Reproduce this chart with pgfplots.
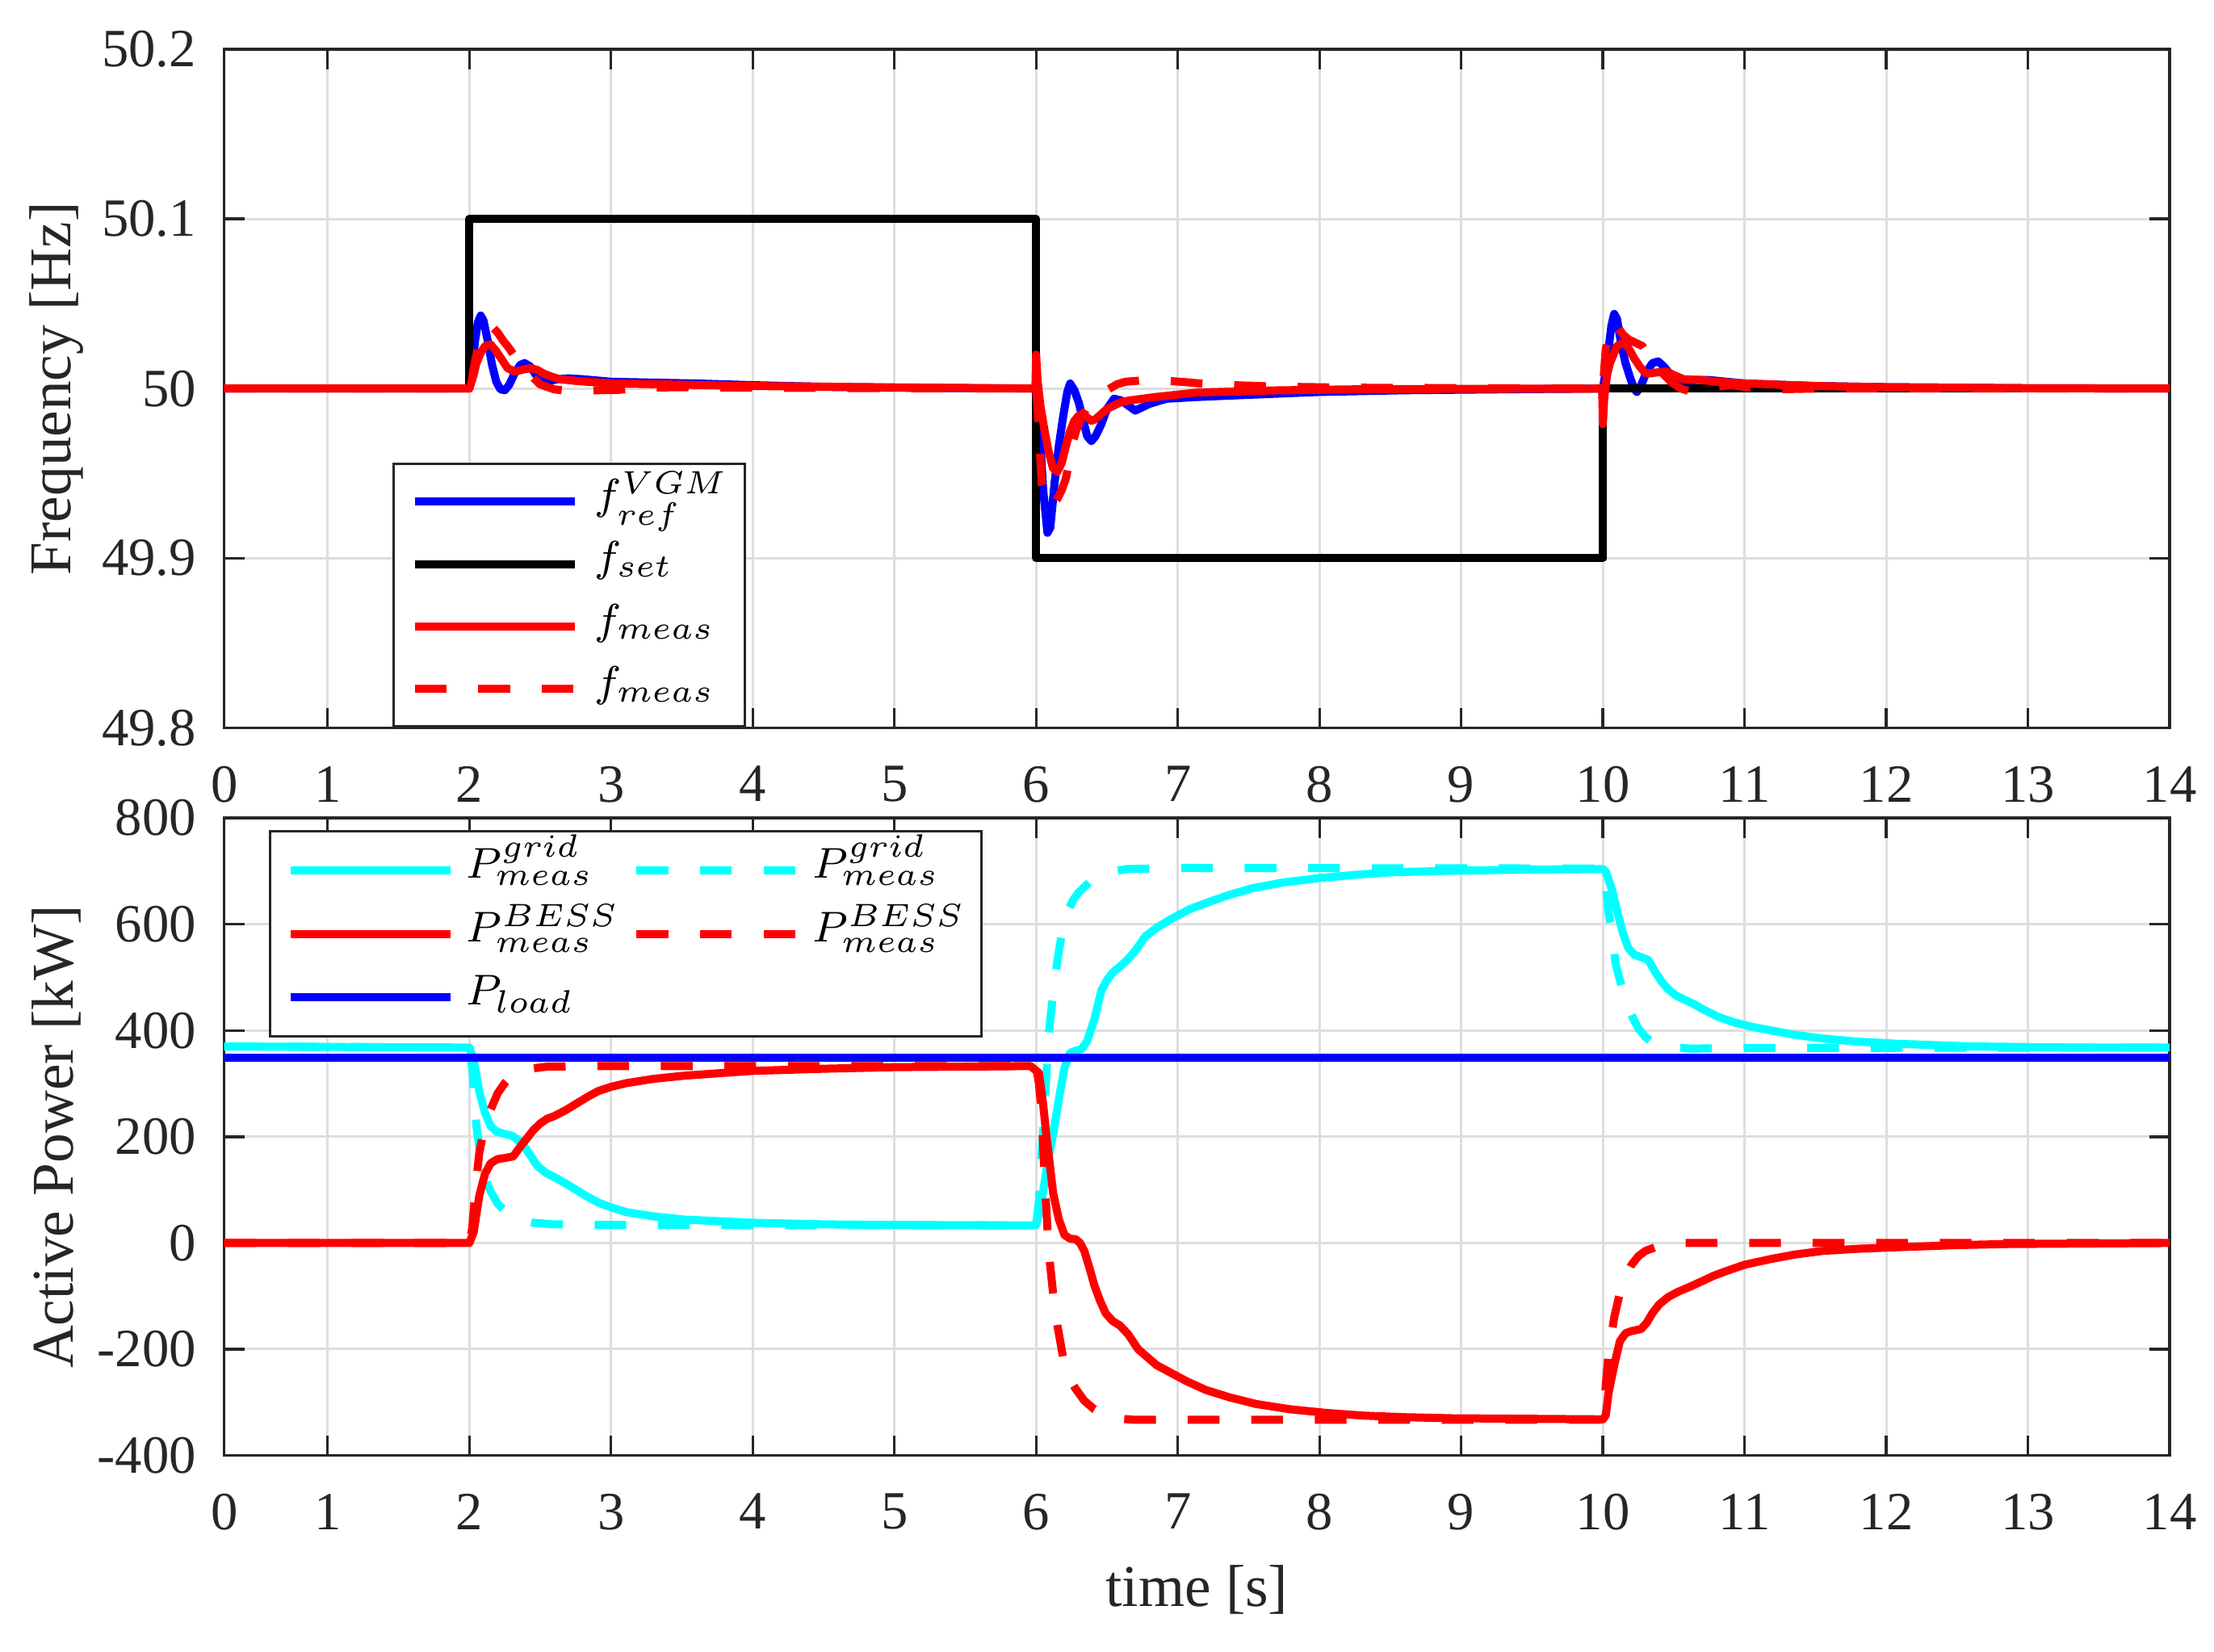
\documentclass[border=0pt]{standalone}
\usepackage{fontspec}
\setmainfont{Liberation Serif}
\usepackage{pgfplots}
\pgfplotsset{compat=1.18}
\definecolor{axgray}{HTML}{262626}
\definecolor{gridgray}{HTML}{DEDEDE}
\definecolor{mcyan}{HTML}{00FFFF}
\definecolor{mred}{HTML}{FF0000}
\definecolor{mblue}{HTML}{0000FF}
\pgfplotsset{
  common/.style={
    scale only axis, width=361.4pt,
    xmin=0.27, xmax=14,
    xtick={0.27,1,2,3,4,5,6,7,8,9,10,11,12,13,14},
    xticklabels={0,1,2,3,4,5,6,7,8,9,10,11,12,13,14},
    grid=major,
    major grid style={line width=0.45pt, draw=gridgray},
    axis line style={line width=0.5pt, draw=axgray},
    tick style={line width=0.5pt, draw=axgray},
    major tick length=3.75pt,
    tick align=inside,
    ticklabel style={font=\fontsize{10}{12}\selectfont, text=axgray},
    x tick label style={yshift=-3.6pt},
    y tick label style={xshift=-1.7pt},
    y label style={at={(axis description cs:-0.0862,0.5)}, anchor=center, font=\fontsize{11}{13}\selectfont, text=axgray},
    x label style={at={(axis description cs:0.5,0)}, anchor=center, yshift=-25pt, font=\fontsize{11}{13}\selectfont, text=axgray},
    legend cell align=left,
    legend image code/.code={\draw (0pt,0pt) -- (29.7pt,0pt);},
    every axis plot/.append style={line width=1.5pt, line join=round},
  },
  dsh/.style={dash pattern=on 5.9pt off 5.9pt},
}
\begin{document}
\begin{tikzpicture}
\useasboundingbox (-41.66pt,-36.5pt) rectangle (369.65pt,270.39pt);
% ---------------- top axis ----------------
\begin{axis}[common, at={(0pt,135.15pt)}, anchor=south west, height=126.1pt,
  ymin=49.8, ymax=50.2, ytick={49.8,49.9,50,50.1,50.2},
  yticklabels={49.8,49.9,50,50.1,50.2},
  ylabel={Frequency [Hz]},
  legend style={at={(axis description cs:0.0865,0)}, anchor=south west,
    draw=axgray, line width=0.5pt, fill=white, inner xsep=3.15pt, inner ysep=1.2pt,
    row sep=0pt,
    nodes={inner sep=0pt, text height=7.2pt, text depth=4.4pt, font=\fontsize{8}{10}\selectfont, text=black},
    /tikz/every odd column/.append style={column sep=3pt}},
]
\addplot[mblue] coordinates {
(0.27,50) (2.0,50) (2.02,50.012) (2.04,50.028) (2.06,50.039) (2.08,50.043) (2.10,50.040) (2.13,50.028) (2.16,50.014) (2.19,50.004) (2.22,49.9995) (2.25,49.999) (2.28,50.002) (2.32,50.009) (2.36,50.014) (2.39,50.015) (2.43,50.013) (2.47,50.008) (2.51,50.005) (2.55,50.004) (2.62,50.0055) (2.7,50.006) (2.8,50.0055) (3.0,50.004) (3.3,50.0035) (3.6,50.003) (4.0,50.002) (4.5,50.001) (5.0,50.0005) (6.0,50)
(6.025,49.975) (6.05,49.94) (6.08,49.915) (6.10,49.918) (6.13,49.944) (6.16,49.966) (6.19,49.983) (6.22,49.998) (6.24,50.003) (6.27,49.999) (6.30,49.992) (6.33,49.982) (6.36,49.972) (6.39,49.969) (6.42,49.972) (6.46,49.979) (6.50,49.988) (6.55,49.994) (6.6,49.993) (6.65,49.990) (6.7,49.987) (6.75,49.989) (6.8,49.991) (6.92,49.994) (7.13,49.995) (7.5,49.9963) (8.0,49.998) (8.6,49.999) (9.5,49.9997) (10.0,50)
(10.02,50.01) (10.04,50.023) (10.06,50.037) (10.08,50.044) (10.1,50.041) (10.13,50.026) (10.16,50.015) (10.19,50.007) (10.22,50.0) (10.24,49.998) (10.27,50.002) (10.31,50.010) (10.35,50.015) (10.39,50.016) (10.43,50.013) (10.48,50.008) (10.53,50.005) (10.57,50.004) (10.65,50.005) (10.75,50.005) (11.0,50.003) (11.5,50.0015) (12,50.0008) (13,50.0002) (14,50)
};
\addlegendentry{$f_{ref}^{VGM}$}
\addplot[black] coordinates {
(0.27,50) (2.0,50) (2.0,50.1) (6.0,50.1) (6.0,49.9) (10.0,49.9) (10.0,50) (14,50)
};
\addlegendentry{$f_{set}$}
\addplot[mred] coordinates {
(0.27,50) (2.0,50) (2.03,50.008) (2.05,50.015) (2.08,50.021) (2.11,50.025) (2.15,50.026) (2.19,50.022) (2.23,50.017) (2.27,50.012) (2.32,50.010) (2.37,50.011) (2.43,50.012) (2.48,50.011) (2.52,50.009) (2.58,50.007) (2.64,50.0055) (2.75,50.0045) (2.83,50.004) (3.02,50.003) (3.4,50.0024) (4,50.0015) (5,50.0007) (5.995,50)
(6.0,50.02) (6.01,50.005) (6.03,49.99) (6.06,49.975) (6.09,49.962) (6.12,49.953) (6.15,49.951) (6.18,49.956) (6.21,49.966) (6.24,49.975) (6.27,49.981) (6.3,49.984) (6.33,49.985) (6.36,49.983) (6.39,49.981) (6.42,49.982) (6.46,49.985) (6.5,49.988) (6.55,49.990) (6.6,49.992) (6.66,49.993) (6.75,49.994) (6.84,49.995) (7.13,49.9976) (7.68,49.9989) (8.2,49.9995) (9,49.9998) (9.995,50)
(10.0,49.979) (10.01,49.995) (10.03,50.008) (10.05,50.015) (10.08,50.021) (10.1,50.025) (10.14,50.027) (10.18,50.024) (10.22,50.018) (10.26,50.013) (10.3,50.009) (10.34,50.009) (10.38,50.0095) (10.45,50.010) (10.5,50.008) (10.57,50.0055) (10.7,50.005) (10.8,50.004) (11,50.003) (11.5,50.0015) (12,50.0008) (13,50.0002) (14,50)
};
\addlegendentry{$f_{meas}$}
\addplot[mred, dsh] coordinates {
(0.27,50) (2.0,50) (2.01,50.0) (2.03,50.012) (2.06,50.024) (2.1,50.032) (2.13,50.036) (2.16,50.0365) (2.2,50.033) (2.24,50.028) (2.27,50.025) (2.32,50.019) (2.37,50.0135) (2.43,50.008) (2.5,50.0024) (2.6,49.9995) (2.71,49.9985) (2.79,49.9985) (2.9,49.999) (3.05,49.9992) (3.2,50.0005) (3.5,50.0008) (4,50.0005) (6.0,50)
(6.01,49.988) (6.04,49.944) (6.08,49.932) (6.12,49.931) (6.15,49.935) (6.18,49.94) (6.21,49.947) (6.24,49.96) (6.26,49.969) (6.29,49.977) (6.32,49.983) (6.36,49.989) (6.41,49.993) (6.46,49.997) (6.52,50.0) (6.57,50.0025) (6.63,50.004) (6.75,50.0048) (6.88,50.0048) (7.05,50.0038) (7.24,50.0024) (7.68,50.0012) (8.2,50.0005) (10,50)
(10.02,50.023) (10.05,50.034) (10.08,50.039) (10.1,50.037) (10.14,50.032) (10.18,50.029) (10.23,50.027) (10.28,50.025) (10.34,50.017) (10.41,50.010) (10.48,50.004) (10.55,50.0) (10.63,49.998) (10.7,49.999) (10.8,50.001) (10.9,50.002) (11.0,50.001) (11.2,49.9995) (11.5,50.0) (14,50)
};
\addlegendentry{$f_{meas}$}
\end{axis}
% ---------------- bottom axis ----------------
\begin{axis}[common, at={(0pt,0pt)}, anchor=south west, height=118.41pt,
  ymin=-400, ymax=800, ytick={-400,-200,0,200,400,600,800},
  yticklabels={-400,-200,0,200,400,600,800},
  ylabel={Active Power [kW]}, xlabel={time [s]},
  legend columns=2,
  legend style={at={(axis description cs:0.023,0.981)}, anchor=north west,
    draw=axgray, line width=0.5pt, fill=white, inner xsep=3pt, inner ysep=1.35pt,
    row sep=0pt,
    nodes={inner sep=0pt, text height=7.3pt, text depth=4.5pt, font=\fontsize{8}{10}\selectfont, text=black},
    /tikz/every odd column/.append style={column sep=2.25pt},
    /tikz/every even column/.append style={column sep=2.5pt}},
]
\addplot[mcyan] coordinates {
(0.27,370) (1,369) (2.0,368) (2.03,345) (2.07,285) (2.11,245) (2.15,220) (2.19,210) (2.24,206) (2.3,202) (2.34,195) (2.38,185) (2.43,165) (2.48,145) (2.54,132) (2.6,124) (2.68,112) (2.76,99) (2.84,86) (2.91,76) (3.0,67) (3.11,58) (3.3,50) (3.52,44) (4.0,38) (4.5,35) (5,34) (5.96,33)
(6.0,34) (6.04,80) (6.08,150) (6.12,205) (6.16,270) (6.2,330) (6.24,358) (6.28,362) (6.32,365) (6.36,380) (6.41,420) (6.46,475) (6.5,495) (6.54,509) (6.59,520) (6.64,532) (6.7,550) (6.77,577) (6.86,595) (6.96,611) (7.08,628) (7.22,642) (7.37,656) (7.53,668) (7.75,679) (8.0,687) (8.25,693) (8.52,698) (9.0,701) (9.5,703) (10.0,704)
(10.02,700) (10.07,660) (10.1,625) (10.14,585) (10.18,555) (10.22,543) (10.27,538) (10.32,533) (10.37,510) (10.42,490) (10.46,478) (10.51,467) (10.56,460) (10.64,450) (10.72,438) (10.82,425) (10.93,415) (11.05,407) (11.19,400) (11.35,392) (11.55,385) (11.8,379) (12.08,375) (12.6,370) (13.3,368) (14,368)
};
\addlegendentry{$P_{meas}^{grid}$}
\addplot[mcyan, dsh] coordinates {
(0.27,370) (2.0,368) (2.02,330) (2.05,220) (2.08,160) (2.1,129) (2.15,97) (2.2,74) (2.25,60) (2.3,51) (2.38,43) (2.45,38) (2.6,35) (3,34) (6.0,33)
(6.02,80) (6.04,170) (6.06,260) (6.09,396) (6.12,470) (6.15,532) (6.18,580) (6.22,623) (6.26,645) (6.3,660) (6.38,680) (6.46,694) (6.55,700) (6.64,704) (7,706) (10.0,705)
(10.02,680) (10.04,623) (10.07,570) (10.09,525) (10.13,485) (10.17,449) (10.21,425) (10.25,404) (10.3,388) (10.35,377) (10.45,370) (10.61,366) (11,367) (14,368)
};
\addlegendentry{$P_{meas}^{grid}$}
\addplot[mred] coordinates {
(0.27,0) (2.0,0) (2.03,20) (2.07,89) (2.11,130) (2.15,150) (2.2,158) (2.25,160) (2.31,163) (2.35,178) (2.4,195) (2.45,212) (2.5,225) (2.55,234) (2.6,239) (2.68,250) (2.76,263) (2.84,276) (2.91,286) (3.0,294) (3.11,301) (3.3,309) (3.52,315) (4.0,324) (4.5,328) (5,331) (5.96,333)
(6.02,320) (6.05,260) (6.07,208) (6.1,140) (6.12,94) (6.16,45) (6.2,15) (6.24,8) (6.28,7) (6.31,0) (6.34,-15) (6.38,-50) (6.41,-79) (6.45,-108) (6.49,-132) (6.54,-147) (6.59,-155) (6.65,-172) (6.72,-200) (6.85,-230) (7.06,-260) (7.2,-277) (7.37,-291) (7.55,-303) (7.79,-313) (8.05,-320) (8.31,-325) (8.6,-328) (8.94,-330) (10.0,-332)
(10.02,-325) (10.04,-283) (10.08,-230) (10.12,-185) (10.16,-170) (10.2,-166) (10.27,-162) (10.31,-150) (10.35,-132) (10.4,-115) (10.46,-102) (10.53,-92) (10.61,-83) (10.7,-72) (10.78,-62) (10.87,-53) (11.0,-41) (11.19,-30) (11.35,-22) (11.55,-15) (11.8,-11) (12.08,-8) (12.5,-4) (12.86,-2) (14,0)
};
\addlegendentry{$P_{meas}^{BESS}$}
\addplot[mred, dsh] coordinates {
(0.27,0) (2.0,0) (2.02,28) (2.05,120) (2.07,170) (2.1,210) (2.15,251) (2.2,282) (2.25,301) (2.3,315) (2.4,327) (2.55,332) (3,333) (6.0,333)
(6.02,300) (6.04,245) (6.06,120) (6.09,-19) (6.12,-95) (6.15,-155) (6.2,-230) (6.24,-258) (6.28,-275) (6.34,-297) (6.41,-313) (6.48,-323) (6.54,-330) (6.7,-333) (10.0,-333)
(10.02,-270) (10.04,-208) (10.08,-140) (10.12,-94) (10.16,-62) (10.2,-42) (10.25,-25) (10.3,-15) (10.4,-5) (10.51,0) (14,0)
};
\addlegendentry{$P_{meas}^{BESS}$}
\addplot[mblue] coordinates {(0.27,349) (14,349)};
\addlegendentry{$P_{load}$}
\end{axis}
\end{tikzpicture}
\end{document}
